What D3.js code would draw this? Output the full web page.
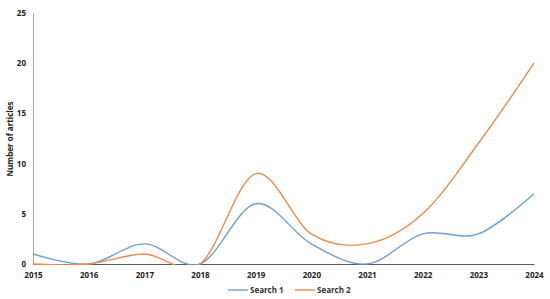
<!DOCTYPE html>
<html><head><meta charset="utf-8">
<script src="https://cdn.jsdelivr.net/npm/d3@7"></script>
<style>body{margin:0;background:#fff}svg{display:block}</style>
</head><body>
<svg id="c" width="550" height="299"></svg>
<script>
const years = [2015,2016,2017,2018,2019,2020,2021,2022,2023,2024];
const search1 = [1,0,2,0,6,2,0,3,3,7];
const search2 = [0,0,1,0,9,3,2,5,12,20];
const yTicks = [0,5,10,15,20,25];
const seriesNames = ["Search 1","Search 2"];
const colors = ["#6b9fd3","#ef8a4c"];

const svg = d3.select("#c");
const x = d3.scaleLinear().domain([2015,2024]).range([33,534]);
const y = d3.scaleLinear().domain([0,25]).range([264,13]);
const font = "'Open Sans', sans-serif";

svg.append("defs").append("clipPath").attr("id","clip")
  .append("rect").attr("x",33).attr("y",0).attr("width",520).attr("height",265);

// y axis
const ya = svg.append("g").attr("transform","translate(33,0)")
  .call(d3.axisLeft(y).tickValues(yTicks).tickSize(0).tickPadding(7));
ya.select(".domain").attr("stroke","#a6a6a6").attr("stroke-width",1);
ya.selectAll("text").attr("font-family",font).attr("font-weight","bold").attr("font-size",8).attr("fill","#222");

// x axis
const xa = svg.append("g").attr("transform","translate(0,264)")
  .call(d3.axisBottom(x).tickValues(years).tickFormat(d3.format("d")).tickSize(0).tickPadding(8));
xa.select(".domain").attr("stroke","#595959").attr("stroke-width",1.2);
xa.selectAll("text").attr("font-family",font).attr("font-weight","bold").attr("font-size",8).attr("fill","#222");

svg.append("text").attr("transform","translate(13,139) rotate(-90)")
  .attr("text-anchor","middle").attr("font-family",font).attr("font-weight","bold")
  .attr("font-size",8).attr("fill","#222").text("Number of articles");

const line = d3.line().x((d,i)=>x(years[i])).y(d=>y(d)).curve(d3.curveCatmullRom.alpha(0));
const g = svg.append("g").attr("clip-path","url(#clip)");
[search1,search2].forEach((s,i)=>{
  g.append("path").attr("d",line(s)).attr("fill","none").attr("stroke",colors[i]).attr("stroke-width",1.4);
});

// legend
const leg = svg.append("g");
const lx = [228,295];
seriesNames.forEach((n,i)=>{
  leg.append("line").attr("x1",lx[i]).attr("x2",lx[i]+20).attr("y1",290).attr("y2",290)
    .attr("stroke",colors[i]).attr("stroke-width",1.4);
  leg.append("text").attr("x",lx[i]+22).attr("y",293).attr("font-family",font)
    .attr("font-weight","bold").attr("font-size",8).attr("fill","#333").text(n);
});
</script>
</body></html>
